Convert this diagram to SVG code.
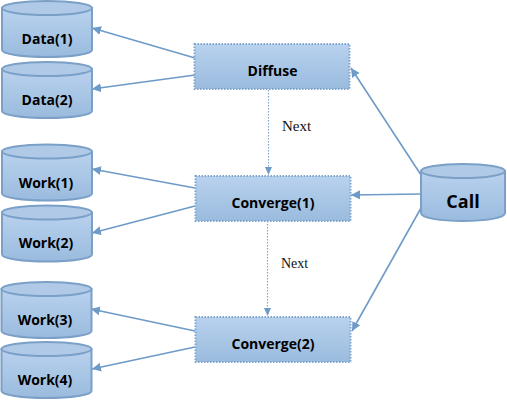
<svg xmlns="http://www.w3.org/2000/svg" width="507" height="400" viewBox="0 0 507 400">
<style>
text{font-family:"Open Sans",sans-serif;font-weight:bold;fill:#000;text-anchor:middle}
.l{font-size:14px}
.c{font-size:18px}
.n{font-family:"Liberation Serif",serif;font-weight:normal;fill:#111;text-anchor:start}
.b{fill:url(#g);stroke:#7fa5cd;stroke-width:2;stroke-dasharray:1.5 1.5}
.cy{fill:url(#g);stroke:#7ba0c8;stroke-width:2}
.t{fill:#afc9e6;stroke:#7ba0c8;stroke-width:2}
.a{fill:none;stroke:#6e9ac8;stroke-width:1.6;marker-end:url(#m)}
.d{fill:none;stroke:#7fa5cd;stroke-width:1.2;stroke-dasharray:1.5 1.5}
</style>
<defs>
<linearGradient id="g" x1="0" y1="0" x2="0" y2="1"><stop offset="0" stop-color="#b9d2ee"/><stop offset="1" stop-color="#9abbde"/></linearGradient>
<marker id="m" markerUnits="userSpaceOnUse" markerWidth="10" markerHeight="10" refX="9" refY="4.5" orient="auto"><path d="M0 0L9 4.500L0 9z" fill="#6e9ac8"/></marker>
<symbol id="cyl" overflow="visible"><path class="cy" d="M0 7V49C0 53 20 56 45 56S90 53 90 49V7z"/><ellipse class="t" cx="45" cy="7" rx="45" ry="7"/></symbol>
</defs>
<g id="connectors">
<path class="a" d="M195 58L92 28"/>
<path class="a" d="M195 75L92 89"/>
<path class="a" d="M195 188L92 169"/>
<path class="a" d="M195 206L92 233"/>
<path class="a" d="M195 331L91 309"/>
<path class="a" d="M195 347L92 369"/>
<path class="a" d="M421 175L351 68"/>
<path class="a" d="M421 194L351 195"/>
<path class="a" d="M421 208L352 331"/>
<path class="d" d="M268.500 90V168"/><path d="M265 167h7l-3.500 8z" fill="#6e9ac8"/>
<path class="d" d="M267.500 221V308"/><path d="M264 308h7l-3.500 8z" fill="#6e9ac8"/>
</g>
<g id="data1"><use href="#cyl" x="2" y="1"/><text class="l" x="47" y="44">Data(1)</text></g>
<g id="data2"><use href="#cyl" x="2" y="62"/><text class="l" x="47" y="105">Data(2)</text></g>
<g id="work1"><use href="#cyl" x="2" y="144.500"/><text class="l" x="46" y="188">Work(1)</text></g>
<g id="work2"><use href="#cyl" x="2" y="205.500"/><text class="l" x="46" y="248">Work(2)</text></g>
<g id="work3"><use href="#cyl" x="1.500" y="282"/><text class="l" x="45" y="325">Work(3)</text></g>
<g id="work4"><use href="#cyl" x="1.500" y="342"/><text class="l" x="45" y="385">Work(4)</text></g>
<g id="diffuse"><rect class="b" x="194.500" y="44" width="155" height="45"/><text class="l" x="272.500" y="76">Diffuse</text></g>
<g id="converge1"><rect class="b" x="195.500" y="176" width="155" height="45"/><text class="l" x="273" y="208">Converge(1)</text></g>
<g id="converge2"><rect class="b" x="195.500" y="317" width="155" height="45"/><text class="l" x="273" y="349">Converge(2)</text></g>
<g id="call"><path class="cy" d="M421 171V213C421 218 440 221 463 221S505 218 505 213V171z"/><ellipse class="t" cx="463" cy="171" rx="42" ry="7"/><text class="c" x="463" y="208">Call</text></g>
<text class="n" x="282" y="131" font-size="15">Next</text>
<text class="n" x="281" y="268" font-size="14">Next</text>
</svg>
